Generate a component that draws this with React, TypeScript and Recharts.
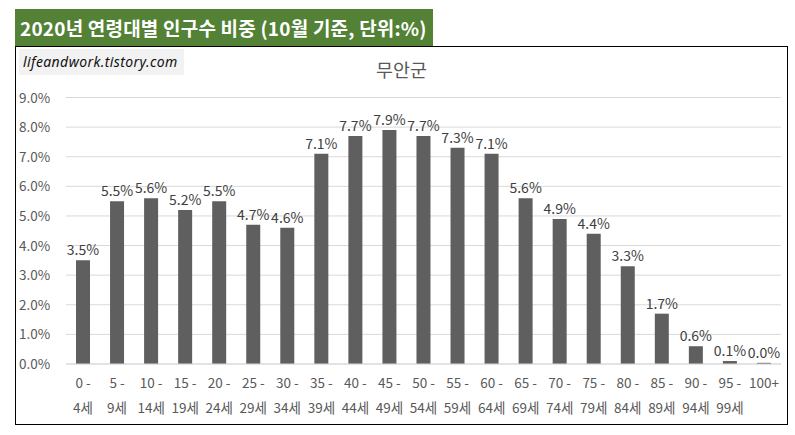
import React from "react";
import { BarChart, Bar, XAxis, YAxis, CartesianGrid, LabelList } from "recharts";

const ageStart = ["0 -", "5 -", "10 -", "15 -", "20 -", "25 -", "30 -", "35 -", "40 -", "45 -", "50 -", "55 -", "60 -", "65 -", "70 -", "75 -", "80 -", "85 -", "90 -", "95 -", "100+"];
const ageEnd = ["4세", "9세", "14세", "19세", "24세", "29세", "34세", "39세", "44세", "49세", "54세", "59세", "64세", "69세", "74세", "79세", "84세", "89세", "94세", "99세", ""];
const shares = [3.5, 5.5, 5.6, 5.2, 5.5, 4.7, 4.6, 7.1, 7.7, 7.9, 7.7, 7.3, 7.1, 5.6, 4.9, 4.4, 3.3, 1.7, 0.6, 0.1, 0.04];
const shareLabels = ["3.5%", "5.5%", "5.6%", "5.2%", "5.5%", "4.7%", "4.6%", "7.1%", "7.7%", "7.9%", "7.7%", "7.3%", "7.1%", "5.6%", "4.9%", "4.4%", "3.3%", "1.7%", "0.6%", "0.1%", "0.0%"];
const yTicks = [0, 1, 2, 3, 4, 5, 6, 7, 8, 9];

const data = ageStart.map((s, i) => ({
  key: s + ageEnd[i],
  idx: i,
  value: shares[i],
  label: shareLabels[i],
}));

const FONT = "'Noto Sans CJK KR', 'Noto Sans', sans-serif";
const GRAY = "#595959";

const XTick = (props: any) => {
  const { x, y, payload } = props;
  const i = data.findIndex((d) => d.key === payload.value);
  return (
    <g>
      <text x={x} y={y + 16} textAnchor="middle" fill={GRAY} fontSize={13.5} fontFamily={FONT}>
        {ageStart[i]}
      </text>
      {ageEnd[i] ? (
        <text x={x} y={y + 41} textAnchor="middle" fill={GRAY} fontSize={13.5} fontFamily={FONT}>
          {ageEnd[i]}
        </text>
      ) : null}
    </g>
  );
};

const YTick = (props: any) => {
  const { y, payload } = props;
  return (
    <text x={3} y={y + 5} textAnchor="start" fill={GRAY} fontSize={13.5} fontFamily={FONT}>
      {payload.value.toFixed(1) + "%"}
    </text>
  );
};

export default function App() {
  return (
    <div style={{ position: "absolute", left: 0, top: 0, width: 795, height: 435, background: "#fff" }}>
      <div
        style={{
          position: "absolute",
          left: 15,
          top: 9,
          width: 418,
          height: 38,
          background: "#538135",
          color: "#fff",
          fontFamily: FONT,
          fontWeight: 700,
          fontSize: 19,
          lineHeight: "37px",
          paddingLeft: 5,
          boxSizing: "border-box",
          whiteSpace: "nowrap",
          letterSpacing: 0.2,
        }}
      >
        2020년 연령대별 인구수 비중 (10월 기준, 단위:%)
      </div>
      <div
        style={{
          position: "absolute",
          left: 15,
          top: 46,
          width: 773,
          height: 379,
          border: "1.5px solid #000",
          boxSizing: "border-box",
        }}
      />
      <div
        style={{
          position: "absolute",
          left: 19,
          top: 49,
          width: 165,
          height: 26,
          background: "#f2f2f2",
          fontFamily: "'Noto Sans', sans-serif",
          fontStyle: "italic",
          fontSize: 14,
          lineHeight: "25px",
          paddingLeft: 4,
          boxSizing: "border-box",
          color: "#111",
          letterSpacing: 0.4,
          whiteSpace: "nowrap",
        }}
      >
        lifeandwork.tistory.com
      </div>
      <div
        style={{
          position: "absolute",
          left: 16,
          top: 57,
          width: 771,
          textAlign: "center",
          fontFamily: FONT,
          fontSize: 18.5,
          color: GRAY,
          lineHeight: "24px",
        }}
      >
        무안군
      </div>
      <div style={{ position: "absolute", left: 16, top: 47 }}>
        <BarChart
          width={771}
          height={378}
          data={data}
          margin={{ top: 50.5, right: 6, left: 0, bottom: 0 }}
          barCategoryGap={10}
        >
          <CartesianGrid vertical={false} stroke="#d9d9d9" strokeWidth={1} />
          <XAxis
            dataKey="key"
            interval={0}
            tickLine={false}
            axisLine={{ stroke: "#d9d9d9" }}
            tick={<XTick />}
            height={61}
          />
          <YAxis
            type="number"
            domain={[0, 9]}
            ticks={yTicks}
            interval={0}
            width={50}
            axisLine={false}
            tickLine={false}
            tick={<YTick />}
          />
          <Bar dataKey="value" fill="#5f5f5f" barSize={14} isAnimationActive={false}>
            <LabelList
              dataKey="label"
              position="top"
              offset={5}
              fill="#404040"
              fontSize={14}
              fontFamily={FONT}
            />
          </Bar>
        </BarChart>
      </div>
    </div>
  );
}
